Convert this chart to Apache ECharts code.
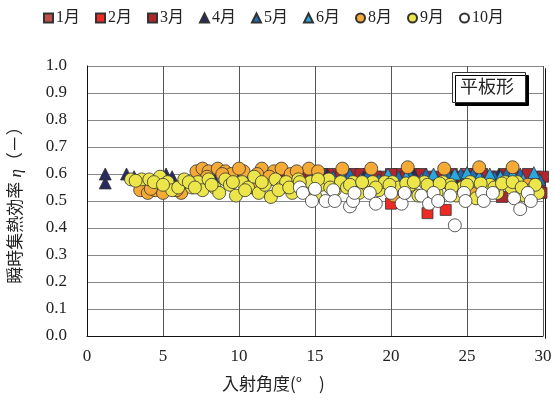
<!DOCTYPE html>
<html><head><meta charset="utf-8">
<script src="https://cdn.jsdelivr.net/npm/echarts@6/dist/echarts.min.js"></script>
<style>html,body{margin:0;padding:0;background:#fff}#c{width:555px;height:401px}</style>
</head><body><div id="c"></div>
<script>
const months = ['1月','2月','3月','4月','5月','6月','8月','9月','10月'];
const xTicks = [0,5,10,15,20,25,30];
const yTicks = [0,0.1,0.2,0.3,0.4,0.5,0.6,0.7,0.8,0.9,1.0];

const jan = [[14,0.59],[16,0.58],[18,0.59],[20,0.58],[22,0.59],[24,0.58],[26,0.59],[28,0.58],[29.5,0.57],[17,0.60],[21,0.60],[25,0.60],[29,0.59]];
const feb = [[20.0,0.49],[22.4,0.455],[23.6,0.467],[21.0,0.55],[25.0,0.57],[27.0,0.56],[29.0,0.58],[18.5,0.575],[23.0,0.58]];
const mar = [[12.5,0.60],[13.5,0.60],[14.5,0.59],[15.5,0.60],[16.5,0.59],[17.5,0.60],[18.5,0.60],[19.5,0.59],[20.5,0.60],[21.5,0.60],[22.5,0.59],[23.5,0.60],[24.5,0.59],[25.5,0.60],[26.5,0.59],[27.5,0.60],[28.5,0.59],[29.5,0.59],[29.8,0.56],[29.5,0.55],[24.0,0.55],[27.3,0.515],[29.9,0.53],
  [13.0,0.59],[14.0,0.60],[15.0,0.59],[16.0,0.60],[17.0,0.59],[18.0,0.60],[19.0,0.59],[20.0,0.60],[21.0,0.59],[22.0,0.60],[23.0,0.59],[24.0,0.60],[25.0,0.59],[26.0,0.60],[27.0,0.59],[28.0,0.60],[29.0,0.60],[30.0,0.59]];
const apr = [[1.2,0.60],[1.2,0.567],[2.6,0.60],[3.1,0.59],[5.2,0.60],[5.6,0.59],[6.8,0.57],[8.3,0.59],[10.2,0.60],[12.4,0.59],[13.0,0.57],[15.8,0.60],[18.2,0.59],[21.5,0.60],[24.0,0.59],[27.1,0.60]];
const may = [[10.5,0.59],[11.8,0.58],[13.5,0.60],[14.8,0.59],[16.2,0.59],[17.3,0.60],[18.5,0.60],[19.2,0.58],[20.5,0.59],[21.2,0.60],[22.3,0.60],[23.0,0.58],[23.8,0.59],[24.6,0.60],[25.4,0.60],[26.0,0.58],[26.8,0.59],[27.6,0.60],[28.5,0.60],[29.3,0.59],[29.8,0.58]];
const jun = [[15.3,0.60],[16.8,0.59],[18.0,0.58],[19.8,0.60],[21.0,0.59],[22.0,0.58],[22.8,0.60],[23.5,0.59],[24.2,0.60],[25.0,0.605],[25.8,0.59],[26.5,0.60],[27.2,0.59],[28.0,0.60],[28.7,0.58],[29.4,0.605]];
const aug = [[3.5,0.54],[4.0,0.53],[4.5,0.54],[5.0,0.53],[5.6,0.55],[6.2,0.53],[7.2,0.61],[7.6,0.62],[8.0,0.61],[8.6,0.62],[9.1,0.61],[9.5,0.60],[10.3,0.61],[10.9,0.55],[11.5,0.62],[12.3,0.61],[12.8,0.62],[13.4,0.60],[14.0,0.54],[14.6,0.62],[15.2,0.61],[16.8,0.62],[18.7,0.62],[20.2,0.52],[21.1,0.625],[22.7,0.54],[23.5,0.62],[25.3,0.53],[25.8,0.625],[28.0,0.625],[29.0,0.56],
  [7.9,0.59],[8.9,0.60],[10.0,0.62],[11.2,0.60],[12.0,0.59],[13.8,0.61],[4.2,0.545],[5.9,0.54]];
const sep = [[2.9,0.58],[3.6,0.58],[4.1,0.58],[4.8,0.59],[5.3,0.57],[5.6,0.54],[6.0,0.55],[6.4,0.58],[6.9,0.55],[7.3,0.57],[7.6,0.54],[8.0,0.58],[8.4,0.55],[8.7,0.53],[9.1,0.58],[9.4,0.56],[9.8,0.52],[10.2,0.57],[10.6,0.55],[11.0,0.59],[11.3,0.53],[11.7,0.56],[12.1,0.515],[12.4,0.58],[12.8,0.55],[13.1,0.57],[13.5,0.53],[13.9,0.58],[14.3,0.55],[14.7,0.57],[15.0,0.52],[15.4,0.56],[15.9,0.58],[16.3,0.54],[16.7,0.57],[17.1,0.55],[17.5,0.57],[17.9,0.53],[18.4,0.56],[18.8,0.57],[19.2,0.54],[19.6,0.57],[20.1,0.57],[20.5,0.55],[20.9,0.53],[21.3,0.56],[21.8,0.52],[22.2,0.57],[22.6,0.55],[23.0,0.53],[23.4,0.57],[23.9,0.56],[24.3,0.52],[24.7,0.55],[25.2,0.57],[25.6,0.51],[26.1,0.54],[26.5,0.56],[27.0,0.53],[27.5,0.57],[27.9,0.55],[28.3,0.57],[28.8,0.52],[29.2,0.54],[29.7,0.53],
  [3.2,0.575],[4.4,0.57],[5.0,0.56],[6.7,0.57],[7.1,0.55],[8.2,0.56],[9.6,0.57],[10.4,0.54],[11.5,0.57],[12.6,0.54],[13.3,0.55],[14.0,0.57],[15.2,0.58],[16.0,0.55],[17.3,0.56],[18.1,0.57],[19.0,0.55],[19.9,0.56],[21.0,0.565],[21.5,0.57],[22.4,0.56],[23.2,0.565],[24.0,0.55],[25.0,0.56],[25.9,0.565],[26.8,0.55],[27.3,0.565],[28.0,0.57],[28.6,0.55],[29.5,0.56]];
const oct = [[14.0,0.55],[14.2,0.53],[14.8,0.50],[15.0,0.545],[15.7,0.50],[16.2,0.54],[16.3,0.50],[17.3,0.48],[17.5,0.50],[17.6,0.53],[18.6,0.53],[19.0,0.49],[20.0,0.53],[20.7,0.49],[20.9,0.53],[22.0,0.52],[22.5,0.49],[22.8,0.53],[23.1,0.50],[23.9,0.52],[24.2,0.41],[24.8,0.53],[24.9,0.50],[26.0,0.53],[26.1,0.50],[26.7,0.53],[28.1,0.51],[28.5,0.47],[29.0,0.53],[29.2,0.50]];

const seriesData = [jan,feb,mar,apr,may,jun,aug,sep,oct];
const colors = ['#c0504d','#ee2a24','#b0262d','#262a5c','#1f6db5','#29a8e0','#f5aa35','#ece64a','#ffffff'];
const symbols = ['rect','rect','rect','triangle','triangle','triangle','circle','circle','circle'];
const sizes = [11,11,11,12,12,12,13,13,13];
const FONT = '"Liberation Serif","Noto Sans CJK JP",serif';

const chart = echarts.init(document.getElementById('c'));
chart.setOption({
  animation:false,
  textStyle:{fontFamily:FONT},
  legend:{
    top:5, left:38, itemWidth:9, itemHeight:9, itemGap:15,
    textStyle:{fontFamily:FONT,fontSize:16,color:'#222',padding:[0,0,0,-2]},
    data:months
  },
  grid:{left:83,right:12,top:66,bottom:65},
  xAxis:{
    type:'value',min:0,max:30,interval:5,
    axisLine:{lineStyle:{color:'#111',width:1}},
    axisTick:{show:false},
    axisLabel:{fontSize:17,color:'#222',margin:12,fontFamily:FONT,formatter:v=>xTicks.includes(v)?String(v):''},
    splitLine:{show:true,lineStyle:{color:'#555',width:1}}
  },
  yAxis:{
    type:'value',min:0,max:1,interval:0.1,
    name:'瞬時集熱効率 {i|η}（－）',nameLocation:'middle',nameGap:62,nameRotate:90,
    nameTextStyle:{fontSize:17,color:'#222',fontFamily:FONT,rich:{i:{fontSize:17,fontStyle:'italic',fontFamily:'"Liberation Serif"',color:'#222'}}},
    axisLine:{show:true,lineStyle:{color:'#111',width:1}},
    axisTick:{show:false},
    axisLabel:{fontSize:17,color:'#222',margin:20,fontFamily:FONT,formatter:v=>v.toFixed(1)},
    splitLine:{show:true,lineStyle:{color:'#888',width:1}}
  },
  graphic:[
    {type:'rect',left:543,top:66,shape:{width:0,height:270},style:{stroke:'#111',fill:'none',lineWidth:1}},
    {type:'rect',left:452,top:72,z:100,shape:{x:0,y:0,width:73,height:30},
      style:{fill:'#fff',stroke:'#333',lineWidth:1,shadowColor:'#000',shadowOffsetX:3,shadowOffsetY:3,shadowBlur:0}},
    {type:'text',left:460,top:77,z:101,style:{text:'平板形',font:'18px "Noto Sans CJK JP"',fill:'#222'}},
    {type:'text',left:222,top:375,style:{text:'入射角度(°　)',font:'17px "Noto Sans CJK JP"',fill:'#222'}}
  ],
  series: seriesData.map((d,i)=>({
    name:months[i],type:'scatter',data:d,symbol:symbols[i],symbolSize:sizes[i],
    itemStyle:{color:colors[i],borderColor:'#333',borderWidth:0.8,opacity:1}
  }))
});
</script></body></html>
